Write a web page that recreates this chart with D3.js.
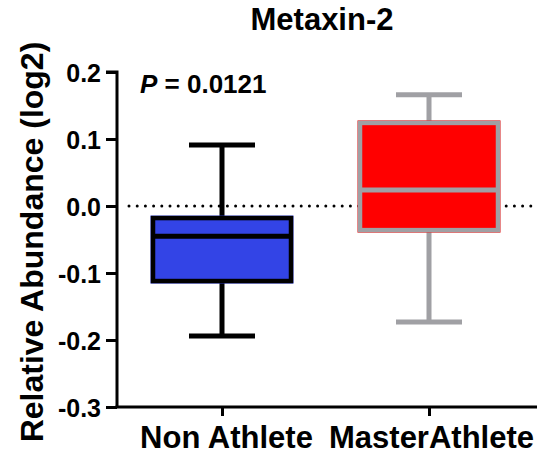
<!DOCTYPE html>
<html>
<head>
<script src="https://cdn.jsdelivr.net/npm/d3@7"></script>
<style>
  body { margin: 0; background: #fff; }
  text { font-family: "Liberation Sans", Arial, sans-serif; font-weight: bold; fill: #000; }
</style>
</head>
<body>
<svg id="chart" width="537" height="455"></svg>
<script>
// data
var groups = ['Non Athlete', 'MasterAthlete'];
var whiskerLow = [-0.194, -0.173];
var q1 = [-0.112, -0.036];
var medians = [-0.045, 0.024];
var q3 = [-0.018, 0.124];
var whiskerHigh = [0.091, 0.166];
var fills = ['#3344e6', '#ff0000'];
var strokes = ['#000000', '#a0a0a4'];
var yTicks = [-0.3, -0.2, -0.1, 0.0, 0.1, 0.2];

var svg = d3.select('#chart');
var font = '"Liberation Sans", Arial, sans-serif';

var x = d3.scalePoint()
  .domain(groups)
  .range([222, 429]);

var y = d3.scaleLinear()
  .domain([-0.3, 0.2])
  .range([407, 72]);

// title
svg.append('text')
  .attr('x', 322).attr('y', 30)
  .attr('text-anchor', 'middle')
  .style('font-size', '31px')
  .text('Metaxin-2');

// y label
svg.append('text')
  .attr('transform', 'translate(43,242) rotate(-90)')
  .attr('text-anchor', 'middle')
  .style('font-size', '32px')
  .text('Relative Abundance (log2)');

// dotted zero line
svg.append('line')
  .attr('x1', 129).attr('x2', 532)
  .attr('y1', y(0)).attr('y2', y(0))
  .attr('stroke', '#000')
  .attr('stroke-width', 3)
  .attr('stroke-linecap', 'round')
  .attr('stroke-dasharray', '0,8.2');

// y axis
var yAxis = svg.append('g')
  .attr('transform', 'translate(117,0)')
  .call(d3.axisLeft(y).tickValues(yTicks).tickSize(11).tickPadding(5));
yAxis.select('.domain').attr('stroke-width', 3).attr('d', 'M-11,' + y(0.2) + 'H0V' + y(-0.3));
yAxis.selectAll('.tick line').attr('stroke-width', 3);
yAxis.selectAll('.tick text')
  .style('font-size', '25px')
  .style('font-family', font)
  .attr('dy', '0.36em')
  .text(d => d3.format('.1f')(d).replace('−', '-'));

// x axis
var xAxis = svg.append('g')
  .attr('transform', 'translate(0,407)')
  .call(d3.axisBottom(x).tickSize(9).tickPadding(10));
xAxis.select('.domain').attr('stroke-width', 3).attr('d', 'M115.5,0H537');
xAxis.selectAll('.tick line').attr('stroke-width', 3);
xAxis.selectAll('.tick text')
  .style('font-size', '31px')
  .style('font-family', font)
  .attr('dy', '0.71em')
  .attr('x', (d, i) => i === 0 ? 4 : 2);

// boxes
var boxW = 138, capW = 66;
var box = svg.selectAll('.box')
  .data(groups)
  .enter().append('g')
  .attr('class', 'box');

box.append('line')
  .attr('x1', d => x(d)).attr('x2', d => x(d))
  .attr('y1', (d, i) => y(whiskerHigh[i])).attr('y2', (d, i) => y(whiskerLow[i]))
  .attr('stroke', (d, i) => strokes[i]).attr('stroke-width', 5);

// fill slightly wider than the outline, like the original export
box.append('rect')
  .attr('x', d => x(d) - boxW / 2 - 2.5)
  .attr('width', boxW + 5)
  .attr('y', (d, i) => y(q3[i]) - 2.5)
  .attr('height', (d, i) => y(q1[i]) - y(q3[i]) + 5)
  .attr('fill', (d, i) => fills[i]);

box.append('rect')
  .attr('x', d => x(d) - boxW / 2)
  .attr('width', boxW)
  .attr('y', (d, i) => y(q3[i]))
  .attr('height', (d, i) => y(q1[i]) - y(q3[i]))
  .attr('fill', 'none')
  .attr('stroke', (d, i) => strokes[i]).attr('stroke-width', 4.5);

box.append('line')
  .attr('x1', d => x(d) - boxW / 2).attr('x2', d => x(d) + boxW / 2)
  .attr('y1', (d, i) => y(medians[i])).attr('y2', (d, i) => y(medians[i]))
  .attr('stroke', (d, i) => strokes[i]).attr('stroke-width', 5);

[whiskerHigh, whiskerLow].forEach(arr => {
  box.append('line')
    .attr('x1', d => x(d) - capW / 2).attr('x2', d => x(d) + capW / 2)
    .attr('y1', (d, i) => y(arr[i])).attr('y2', (d, i) => y(arr[i]))
    .attr('stroke', (d, i) => strokes[i]).attr('stroke-width', 5);
});

// p value
var p = svg.append('text')
  .attr('x', 140).attr('y', 93)
  .style('font-size', '26px');
p.append('tspan').style('font-style', 'italic').text('P');
p.append('tspan').text(' = 0.0121');
</script>
</body>
</html>
